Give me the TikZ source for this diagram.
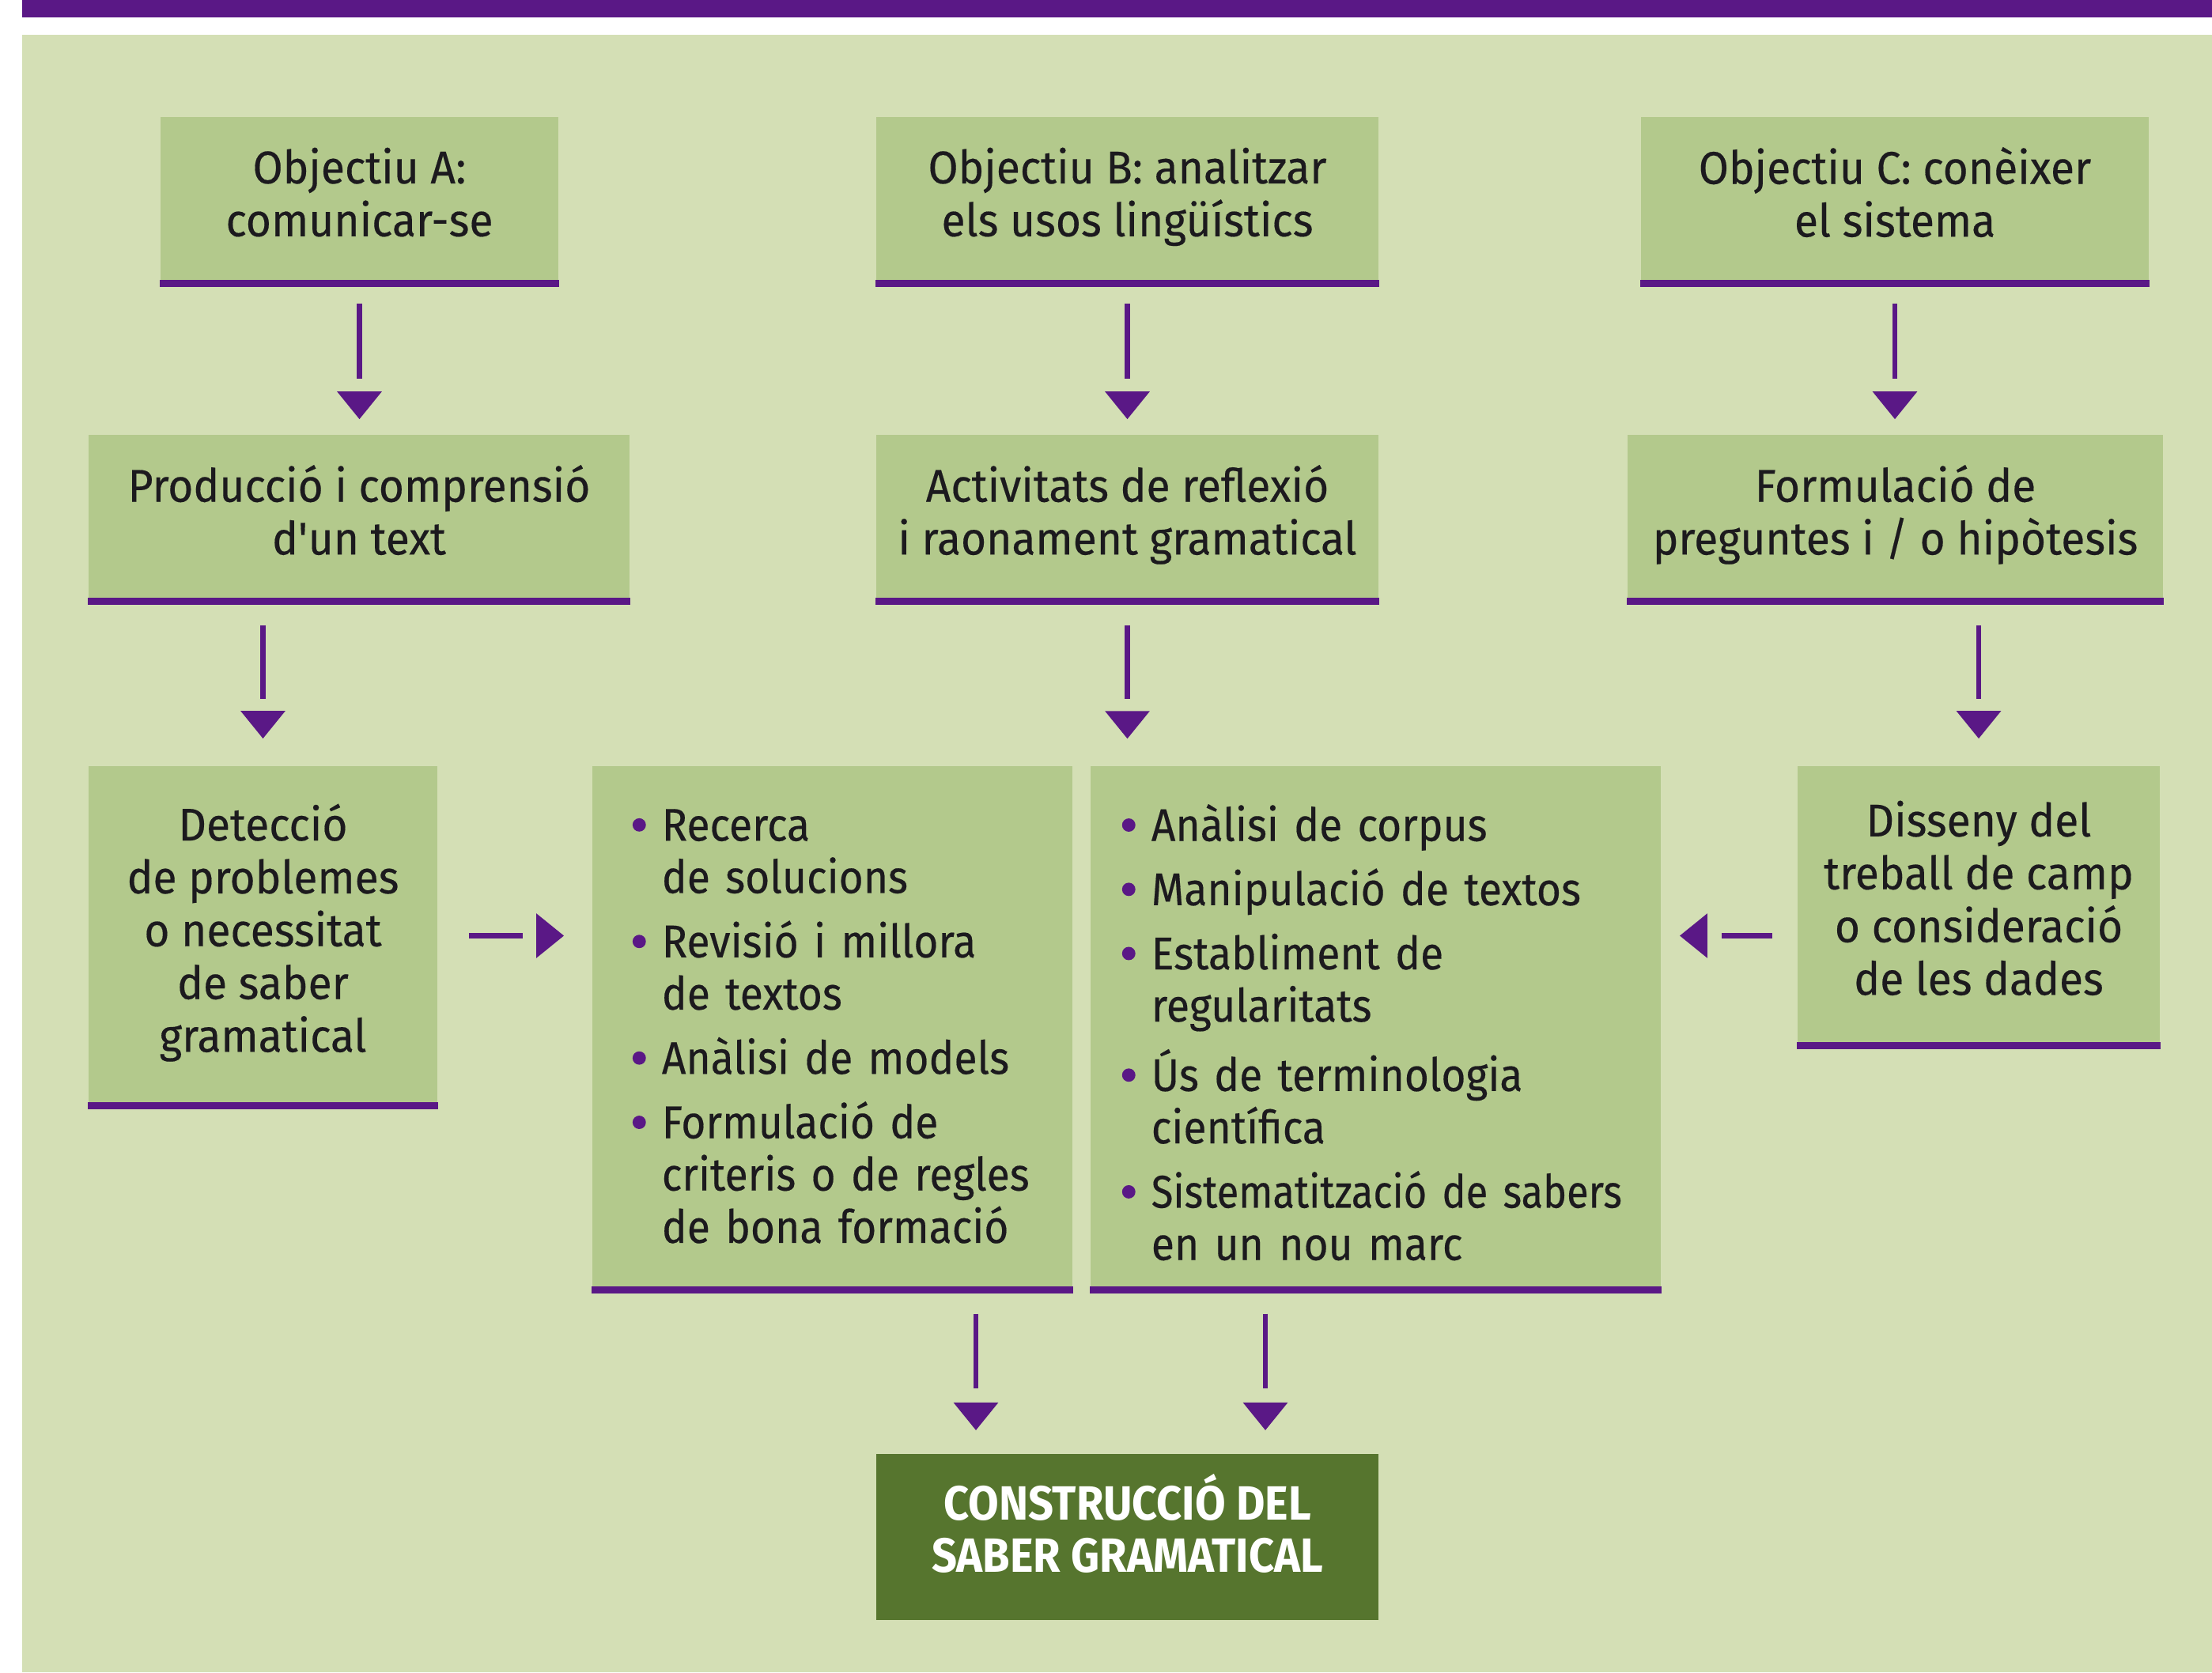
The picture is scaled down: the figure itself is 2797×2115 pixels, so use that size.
\documentclass[tikz,border=0pt]{standalone}
\usepackage{fontspec}
\setmainfont{Fira Sans}[FakeStretch=0.95, FakeBold=0.3]
\newfontfamily\listfont{Fira Sans}[FakeStretch=0.92, FakeBold=0.3, WordSpace=0.85]
\newfontfamily\titlefont{Fira Sans}[FakeStretch=0.92]
\usepackage{xcolor}
\usepackage{tikz}
\usetikzlibrary{arrows.meta}

\definecolor{vpurple}{HTML}{5A1886}
\definecolor{bgsage}{HTML}{D4DFB5}
\definecolor{boxsage}{HTML}{B3C98C}
\definecolor{darksage}{HTML}{56752E}
\definecolor{ink}{HTML}{1C1A1E}

\newcommand{\dotb}{\makebox[0.37cm][l]{\tikz[baseline=-5.7pt]\fill[vpurple] (0,0) circle[radius=2.4pt];}}

\tikzset{
  box/.style={rectangle, fill=boxsage, inner sep=0pt, align=center, text=ink,
    font=\fontsize{16.5}{19}\selectfont,
    execute at begin node=\strut, execute at end node={\rule[-3.7pt]{0pt}{0pt}}},
  listbox/.style={rectangle, fill=boxsage, inner ysep=0pt, align=left, text=ink,
    font=\listfont\fontsize{16.5}{18.8}\selectfont, minimum height=6.615cm},
  underline/.style={draw=vpurple, line width=0.09cm},
  flow/.style={draw=vpurple, line width=0.065cm, line cap=butt,
    -{Triangle[length=0.35cm, width=0.55cm]}}
}

\begin{document}
\begin{tikzpicture}[x=0.01cm, y=-0.01cm]
    \useasboundingbox (0, 0) rectangle (2797, 2115);
    \fill[vpurple] (28, 0) rectangle (2797, 22);
    \fill[bgsage] (28, 44) rectangle (2797, 2115);

    % objectius
    \node[box, minimum width=5.03cm, minimum height=2.095cm] at (454.5, 252.75) (objA) {Objectiu A:\\comunicar-se};
    \node[box, minimum width=6.35cm, minimum height=2.095cm] at (1425.5, 252.75) (objB) {Objectiu B: analitzar\\els usos lingüístics};
    \node[box, minimum width=6.42cm, minimum height=2.095cm] at (2396, 252.75) (objC) {Objectiu C: conèixer\\el sistema};

    \node[box, minimum width=6.84cm, minimum height=2.095cm] at (454, 654.75) (prod) {Producció i comprensió\\d\textquotesingle un text};
    \node[box, minimum width=6.35cm, minimum height=2.095cm] at (1425.5, 654.75) (act) {Activitats de reflexió\\i raonament gramatical};
    \node[box, minimum width=6.77cm, minimum height=2.095cm] at (2396.5, 654.75) (form) {Formulació de\\preguntes i / o hipòtesis};

    \node[box, minimum width=4.41cm, minimum height=4.29cm] at (332.5, 1183.5) (detec) {Detecció\\de problemes\\o necessitat\\de saber\\gramatical};
    \node[listbox, inner xsep=0.51cm, text width=5.05cm] at (1052.5, 1300) (listL) {%
      \begin{minipage}[c][5.655cm][t]{\linewidth}
      \begin{tabular}{@{}l@{}l@{}}
        \dotb & Recerca\\
              & de solucions\\[0.15cm]
        \dotb & Revisió i millora\\
              & de textos\\[0.15cm]
        \dotb & Anàlisi de models\\[0.15cm]
        \dotb & Formulació de\\
              & criteris o de regles\\
              & de bona formació
      \end{tabular}
      \end{minipage}};
    \node[listbox, inner xsep=0.40cm, text width=6.41cm] at (1739.5, 1300) (listR) {%
      \begin{minipage}[c][5.655cm][t]{\linewidth}
      \begin{tabular}{@{}l@{}l@{}}
        \dotb & Anàlisi de corpus\\[0.15cm]
        \dotb & Manipulació de textos\\[0.15cm]
        \dotb & Establiment de\\
              & regularitats\\[0.15cm]
        \dotb & Ús de terminologia\\
              & científica\\[0.15cm]
        \dotb & {\addfontfeature{FakeStretch=0.87}Sistematització de sabers}\\
              & en un nou marc
      \end{tabular}
      \end{minipage}};
    \node[box, minimum width=4.58cm, minimum height=3.53cm] at (2502, 1145.5) (disseny) {Disseny del\\treball de camp\\o consideració\\de les dades};

    \node[box, fill=darksage, text=white, minimum width=6.35cm, minimum height=2.10cm,
      execute at end node={\rule[-1.6pt]{0pt}{0pt}},
      font=\titlefont\bfseries\fontsize{17.3}{18.7}\selectfont] at (1425.5, 1944) (final) {CONSTRUCCI\smash{Ó} DEL\\SABER GRAMATICAL};

    \foreach \n in {objA, objB, objC, prod, act, form, detec, listL, listR, disseny}
        \draw[underline] (\n.south west) -- (\n.south east);

    \coordinate (inL) at (1234, 1839);
    \coordinate (inR) at (1600, 1839);

    % fletxes
    \draw[flow, shorten <=0.255cm, shorten >=0.19cm, dash pattern=on 0.95cm off 5cm] (objA.south) -- (objA.south |- prod.north);
    \draw[flow, shorten <=0.255cm, shorten >=0.19cm, dash pattern=on 0.95cm off 5cm] (objB.south) -- (act.north);
    \draw[flow, shorten <=0.255cm, shorten >=0.19cm, dash pattern=on 0.95cm off 5cm] (objC.south) -- (objC.south |- form.north);

    \draw[flow, shorten <=0.305cm, shorten >=0.34cm, dash pattern=on 0.93cm off 5cm] (prod.south -| detec.north) -- (detec.north);
    \draw[flow, shorten <=0.305cm, shorten >=0.34cm, dash pattern=on 0.93cm off 5cm] (act.south) -- (act.south |- listR.north);
    \draw[flow, shorten <=0.305cm, shorten >=0.34cm, dash pattern=on 0.93cm off 5cm] (form.south -| disseny.north) -- (disseny.north);

    \draw[flow, shorten <=0.39cm, shorten >=0.35cm, dash pattern=on 0.68cm off 5cm] (detec.east) -- (listL.west |- detec.east);
    \draw[flow, shorten <=0.31cm, shorten >=0.23cm, dash pattern=on 0.64cm off 5cm] (disseny.west |- detec.east) -- (listR.east |- detec.east);

    \draw[flow, shorten <=0.30cm, shorten >=0.30cm, dash pattern=on 0.94cm off 5cm] (listL.south -| inL) -- (inL);
    \draw[flow, shorten <=0.30cm, shorten >=0.30cm, dash pattern=on 0.94cm off 5cm] (listR.south -| inR) -- (inR);
\end{tikzpicture}
\end{document}
